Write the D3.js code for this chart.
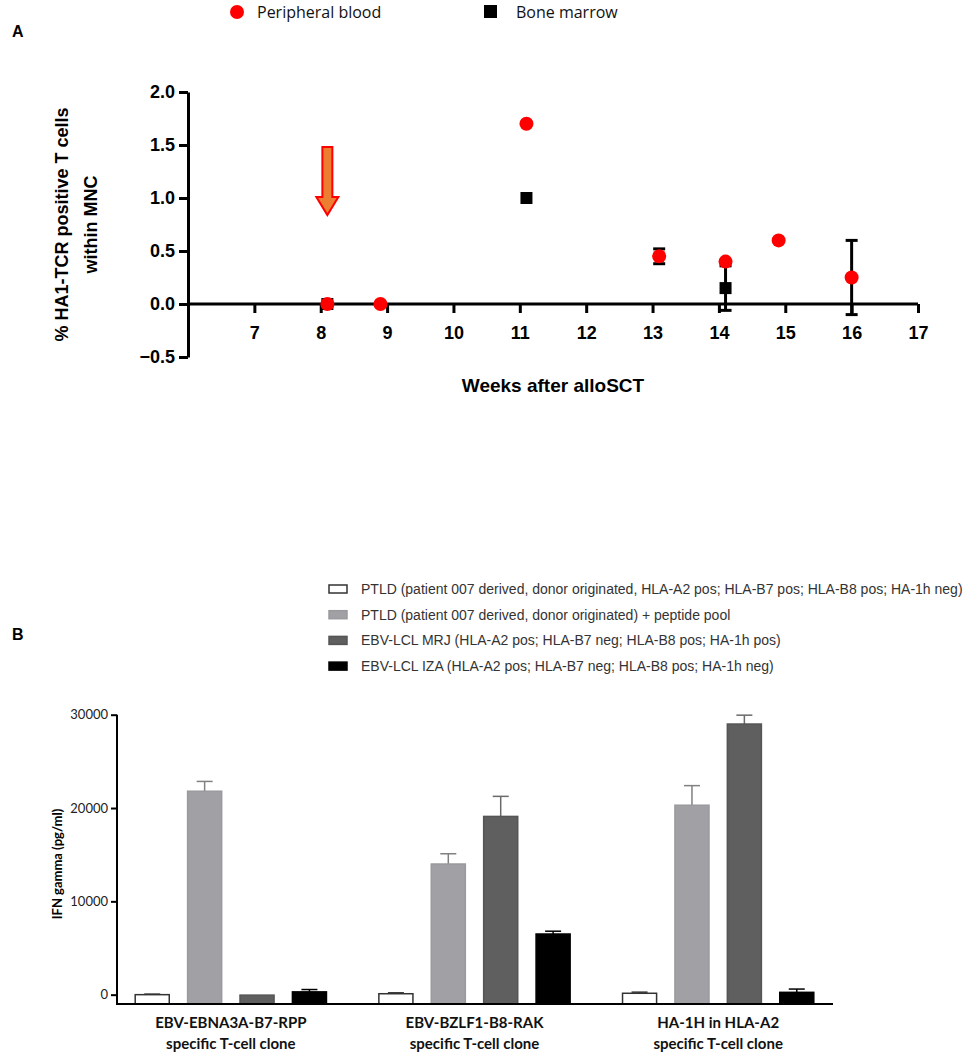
<!DOCTYPE html>
<html>
<head>
<meta charset="utf-8">
<script src="https://cdn.jsdelivr.net/npm/d3@7"></script>
<style>
  body { margin: 0; background: #fff; }
</style>
</head>
<body>
<div id="chart"></div>
<script>
const WIDTH = 976;
const HEIGHT = 1056;

// ---- panel A data (weeks after alloSCT, % HA1-TCR+ T cells) ----
const pbWeeks  = [8.1, 8.9, 11.1, 13.1, 14.1, 14.9, 16];
const pbValues = [0, 0, 1.7, 0.45, 0.4, 0.6, 0.25];
const pbErrors = [0, 0, 0, 0.07, 0, 0, 0.35];
const bmWeeks  = [8.1, 11.1, 14.1];
const bmValues = [0, 1.0, 0.15];
const bmErrors = [0, 0, 0.21];
const weekTicks = [7, 8, 9, 10, 11, 12, 13, 14, 15, 16, 17];
const pctTicks = [-0.5, 0, 0.5, 1.0, 1.5, 2.0];
// infusion arrow (week, from, to)
const arrowWeek = 8.1, arrowFrom = 1.48, arrowTo = 0.84;

// ---- panel B data (IFN gamma pg/ml) ----
const clones = [
  ['EBV-EBNA3A-B7-RPP', 'specific T-cell clone'],
  ['EBV-BZLF1-B8-RAK', 'specific T-cell clone'],
  ['HA-1H in HLA-A2', 'specific T-cell clone']
];
const targets = [
  'PTLD (patient 007 derived, donor originated, HLA-A2 pos; HLA-B7 pos; HLA-B8 pos; HA-1h neg)',
  'PTLD (patient 007 derived, donor originated) + peptide pool',
  'EBV-LCL MRJ (HLA-A2 pos; HLA-B7 neg; HLA-B8 pos; HA-1h pos)',
  'EBV-LCL IZA (HLA-A2 pos; HLA-B7 neg; HLA-B8 pos; HA-1h neg)'
];
const ifnValues = [
  [0, 21800, -50, 300],
  [100, 14000, 19100, 6500],
  [150, 20300, 29000, 250]
];
const ifnErrors = [
  [60, 1050, 0, 250],
  [100, 1100, 2150, 300],
  [120, 2100, 950, 350]
];
const ifnTicks = [0, 10000, 20000, 30000];

const targetFill   = ['#ffffff', '#a1a1a5', '#5f5f5f', '#000000'];
const targetStroke = ['#333333', '#9a9a9e', '#555555', '#000000'];
const errColor     = ['#333333', '#808080', '#6a6a6a', '#000000'];

const svg = d3.select('#chart').append('svg')
  .attr('width', WIDTH)
  .attr('height', HEIGHT)
  .style('font-family', '"Liberation Sans", Arial, sans-serif');

// =================== PANEL A ===================
const xA = d3.scaleLinear().domain([6, 17]).range([188, 918]);
const yA = d3.scaleLinear().domain([-0.5, 2]).range([357, 92]);

svg.append('text').attr('x', 12).attr('y', 37)
   .style('font-weight', 'bold').style('font-size', '16px').text('A');

// legend A
const legA = svg.append('g').style('font-family', '"Open Sans", "Noto Sans", sans-serif').style('font-size', '16px');
legA.append('circle').attr('cx', 237).attr('cy', 12).attr('r', 7).attr('fill', '#ff0000');
legA.append('text').attr('x', 257).attr('y', 18).attr('fill', '#111').text('Peripheral blood');
legA.append('rect').attr('x', 484).attr('y', 5).attr('width', 13).attr('height', 13).attr('fill', '#000');
legA.append('text').attr('x', 516).attr('y', 18).attr('fill', '#111').text('Bone marrow');

// axes
const yAxisA = svg.append('g')
  .attr('transform', 'translate(' + xA(6) + ',0)')
  .call(d3.axisLeft(yA).tickValues(pctTicks).tickFormat(d3.format('.1f'))
        .tickSize(9).tickSizeOuter(0).tickPadding(4));
const xAxisA = svg.append('g')
  .attr('transform', 'translate(0,' + yA(0) + ')')
  .call(d3.axisBottom(xA).tickValues(weekTicks).tickFormat(d3.format('d'))
        .tickSize(9).tickSizeOuter(0).tickPadding(13));
[yAxisA, xAxisA].forEach(function(g) {
  g.selectAll('path, line').attr('stroke', '#000').attr('stroke-width', 3);
  g.selectAll('text').attr('fill', '#000')
   .style('font-size', '18px').style('font-weight', 'bold')
   .style('font-family', '"Liberation Sans", Arial, sans-serif');
});
xAxisA.select('.domain').attr('d', 'M' + xA(6) + ',0H' + xA(17));

// axis titles
svg.append('text')
  .attr('transform', 'translate(68,' + yA(0.75) + ') rotate(-90)')
  .attr('text-anchor', 'middle')
  .style('font-size', '18px').style('font-weight', 'bold')
  .text('% HA1-TCR positive T cells');
svg.append('text')
  .attr('transform', 'translate(97,' + yA(0.75) + ') rotate(-90)')
  .attr('text-anchor', 'middle')
  .style('font-size', '18px').style('font-weight', 'bold')
  .text('within MNC');
svg.append('text')
  .attr('x', (xA(6) + xA(17)) / 2).attr('y', 392)
  .attr('text-anchor', 'middle')
  .style('font-size', '19px').style('font-weight', 'bold')
  .text('Weeks after alloSCT');

// arrow
(function() {
  const cx = xA(arrowWeek);
  const top = yA(arrowFrom), tip = yA(arrowTo);
  const headTop = tip - 18;
  const sw = 5, hw = 11;
  const d = 'M' + (cx - sw) + ',' + top + 'H' + (cx + sw) + 'V' + headTop +
            'H' + (cx + hw) + 'L' + cx + ',' + tip + 'L' + (cx - hw) + ',' + headTop +
            'H' + (cx - sw) + 'Z';
  svg.append('path').attr('d', d).attr('fill', '#ed7d31')
     .attr('stroke', '#ff0000').attr('stroke-width', 2);
})();

function errorBars(weeks, values, errors) {
  const g = svg.append('g').attr('stroke', '#000').attr('stroke-width', 3);
  weeks.forEach(function(w, i) {
    const e = errors[i];
    if (!e) return;
    const cx = xA(w);
    g.append('line').attr('x1', cx).attr('x2', cx)
     .attr('y1', yA(values[i] - e)).attr('y2', yA(values[i] + e));
    [values[i] - e, values[i] + e].forEach(function(v) {
      g.append('line').attr('x1', cx - 6).attr('x2', cx + 6)
       .attr('y1', yA(v)).attr('y2', yA(v));
    });
  });
}

// bone marrow first (behind)
errorBars(bmWeeks, bmValues, bmErrors);
svg.append('g').selectAll('rect')
  .data(bmWeeks).enter().append('rect')
  .attr('x', d => xA(d) - 6)
  .attr('y', (d, i) => yA(bmValues[i]) - 6)
  .attr('width', 12).attr('height', 12)
  .attr('fill', '#000');

errorBars(pbWeeks, pbValues, pbErrors);
svg.append('g').selectAll('circle')
  .data(pbWeeks).enter().append('circle')
  .attr('cx', d => xA(d))
  .attr('cy', (d, i) => yA(pbValues[i]))
  .attr('r', 7)
  .attr('fill', '#ff0000');

// =================== PANEL B ===================
const yB = d3.scaleLinear().domain([-1000, 30000]).range([1004, 714.7]);
const x0 = d3.scaleBand().domain(d3.range(clones.length)).range([109, 840]);
const x1 = d3.scaleBand().domain(d3.range(targets.length))
  .range([0, x0.bandwidth()]).paddingInner(0.35).paddingOuter(0.5);

svg.append('text').attr('x', 12).attr('y', 640)
   .style('font-weight', 'bold').style('font-size', '16px').text('B');

// legend B
const legB = svg.append('g').style('font-size', '14px');
targets.forEach(function(t, i) {
  const cy = 589 + i * 25.7;
  legB.append('rect').attr('x', 329).attr('y', cy - 4).attr('width', 18).attr('height', 8)
      .attr('fill', targetFill[i]).attr('stroke', targetStroke[i]).attr('stroke-width', 1.5);
  legB.append('text').attr('x', 361).attr('y', cy + 5).attr('fill', '#333').text(t);
});

// bars
clones.forEach(function(c, gi) {
  const g = svg.append('g').attr('transform', 'translate(' + x0(gi) + ',0)');
  targets.forEach(function(t, si) {
    const v = ifnValues[gi][si], e = ifnErrors[gi][si];
    const bx = x1(si), bw = x1.bandwidth();
    if (e > 0) {
      g.append('line').attr('x1', bx + bw / 2).attr('x2', bx + bw / 2)
       .attr('y1', yB(v)).attr('y2', yB(v + e))
       .attr('stroke', errColor[si]).attr('stroke-width', 1.5);
      g.append('line').attr('x1', bx + bw / 2 - 8).attr('x2', bx + bw / 2 + 8)
       .attr('y1', yB(v + e)).attr('y2', yB(v + e))
       .attr('stroke', errColor[si]).attr('stroke-width', 1.5);
    }
    g.append('rect')
     .attr('x', bx).attr('width', bw)
     .attr('y', yB(v)).attr('height', yB(-1000) - yB(v))
     .attr('fill', targetFill[si]).attr('stroke', targetStroke[si]).attr('stroke-width', 1.5);
  });
});

const yAxisB = svg.append('g')
  .attr('transform', 'translate(117,0)')
  .call(d3.axisLeft(yB).tickValues(ifnTicks).tickFormat(d3.format('d'))
        .tickSize(6).tickSizeOuter(0).tickPadding(3));
yAxisB.select('.domain').attr('d', 'M0,' + yB(-1000) + 'V' + yB(30000));
yAxisB.selectAll('path, line').attr('stroke', '#000').attr('stroke-width', 2);
yAxisB.selectAll('text').attr('fill', '#222')
  .style('font-size', '13px').style('font-family', 'Lato, "Open Sans", sans-serif');

svg.append('line')
  .attr('x1', 116).attr('x2', 833)
  .attr('y1', yB(-1000)).attr('y2', yB(-1000))
  .attr('stroke', '#000').attr('stroke-width', 2);

svg.append('text')
  .attr('transform', 'translate(62,' + yB(14000) + ') rotate(-90)')
  .attr('text-anchor', 'middle')
  .style('font-size', '13px').style('font-weight', 'bold')
  .style('font-family', 'Lato, "Open Sans", sans-serif')
  .text('IFN gamma (pg/ml)');

clones.forEach(function(c, gi) {
  const cx = x0(gi) + x0.bandwidth() / 2;
  c.forEach(function(line, li) {
    svg.append('text').attr('x', cx).attr('y', 1028 + li * 21)
      .attr('text-anchor', 'middle').attr('fill', '#111')
      .style('font-size', '15px').style('font-weight', 'bold')
      .style('font-family', 'Lato, "Open Sans", sans-serif')
      .text(line);
  });
});
</script>
</body>
</html>
